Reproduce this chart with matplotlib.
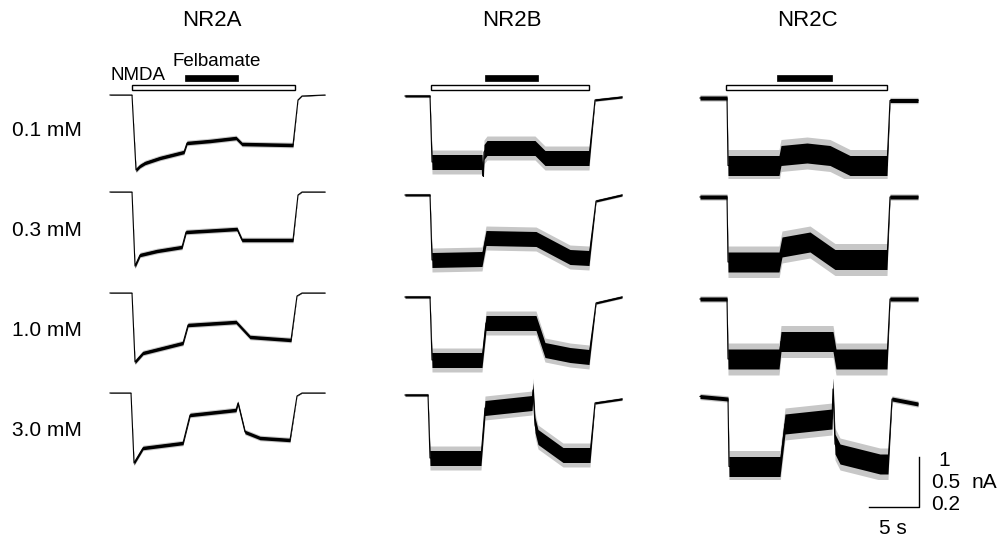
import numpy as np
import matplotlib
matplotlib.use('Agg')
import matplotlib.pyplot as plt
from matplotlib.patches import Rectangle
from matplotlib import transforms

plt.rcParams['font.family'] = ['Liberation Sans', 'DejaVu Sans']

columns = ['NR2A', 'NR2B', 'NR2C']
concentrations = ['0.1 mM', '0.3 mM', '1.0 mM', '3.0 mM']

# drug application windows (s, relative to NMDA onset)
nmda_on = [0.0, 0.1, -0.1]
nmda_off = [16.3, 15.9, 16.0]
felb_on = [5.3, 5.5, 5.0]
felb_off = [10.6, 10.8, 10.5]

# scale bar: 5 s, and 1 / 0.5 / 0.2 nA for NR2A / NR2B / NR2C
bar_s = 5
bar_na = [1, 0.5, 0.2]

# noise envelope half-width (nA): baseline, during NMDA
noise_base = [0.004, 0.01, 0.008]
noise_on = [0.035, 0.075, 0.04]

# NR2A traces (time s, current nA)
t_a1 = [-2.2, 0.0, 0.4, 0.8, 1.3, 2.8, 5.2, 5.5, 7.8, 10.4, 11.0, 16.1, 16.6, 17.0, 19.3]
i_a1 = [0.0, 0.0, -1.50, -1.42, -1.36, -1.26, -1.14, -0.96, -0.92, -0.86, -0.98, -1.00, -0.10, -0.02, 0.0]
t_a2 = [-2.2, 0.0, 0.3, 0.8, 2.5, 5.0, 5.4, 10.5, 11.0, 16.1, 16.6, 17.0, 19.3]
i_a2 = [0.0, 0.0, -1.48, -1.26, -1.18, -1.10, -0.80, -0.74, -0.96, -0.96, -0.06, 0.0, 0.0]
t_a3 = [-2.2, 0.0, 0.3, 1.1, 5.1, 5.6, 10.4, 11.8, 15.9, 16.5, 17.0, 19.3]
i_a3 = [0.0, 0.0, -1.38, -1.20, -1.00, -0.64, -0.58, -0.88, -0.94, -0.06, 0.0, 0.0]
t_a4 = [-2.2, -0.1, 0.2, 1.1, 5.1, 5.8, 10.4, 10.6, 11.3, 12.8, 15.8, 16.5, 17.0, 19.3]
i_a4 = [0.0, 0.0, -1.40, -1.10, -1.00, -0.44, -0.34, -0.20, -0.78, -0.90, -0.94, -0.06, 0.0, 0.0]

# NR2B traces
t_b1 = [-2.5, 0.0, 0.2, 5.2, 5.3, 5.4, 5.7, 10.5, 11.5, 15.9, 16.5, 19.2]
i_b1 = [0.0, 0.0, -0.66, -0.66, -0.86, -0.56, -0.52, -0.52, -0.62, -0.62, -0.04, -0.01]
t_b2 = [-2.5, 0.0, 0.2, 5.2, 5.6, 10.6, 14.0, 15.9, 16.6, 19.2]
i_b2 = [0.0, 0.0, -0.65, -0.64, -0.43, -0.44, -0.62, -0.63, -0.06, 0.0]
t_b3 = [-2.5, 0.0, 0.2, 5.2, 5.6, 10.6, 11.5, 14.0, 15.9, 16.6, 19.2]
i_b3 = [0.0, 0.0, -0.63, -0.63, -0.26, -0.26, -0.53, -0.58, -0.60, -0.06, 0.0]
t_b4 = [-2.5, -0.2, 0.0, 5.1, 5.5, 10.2, 10.3, 10.5, 10.8, 13.3, 16.0, 16.5, 19.2]
i_b4 = [0.0, 0.0, -0.63, -0.63, -0.13, -0.08, 0.05, -0.30, -0.42, -0.60, -0.60, -0.08, -0.04]

# NR2C traces
t_c1 = [-2.7, 0.0, 0.1, 5.2, 5.4, 8.0, 10.3, 12.3, 16.0, 16.3, 19.1]
i_c1 = [0.0, 0.0, -0.27, -0.27, -0.23, -0.22, -0.23, -0.27, -0.27, -0.01, -0.01]
t_c2 = [-2.7, 0.0, 0.1, 5.2, 5.5, 8.3, 10.8, 16.0, 16.3, 19.1]
i_c2 = [0.0, 0.0, -0.26, -0.26, -0.20, -0.18, -0.25, -0.25, 0.0, 0.0]
t_c3 = [-2.7, 0.0, 0.1, 5.2, 5.4, 10.6, 10.9, 16.0, 16.3, 19.1]
i_c3 = [0.0, 0.0, -0.24, -0.24, -0.17, -0.17, -0.24, -0.24, 0.0, 0.0]
t_c4 = [-2.7, 0.1, 0.2, 5.3, 5.8, 10.5, 10.6, 10.8, 11.3, 15.3, 16.1, 16.5, 19.1]
i_c4 = [0.01, 0.0, -0.27, -0.27, -0.10, -0.08, 0.04, -0.18, -0.22, -0.26, -0.26, 0.0, -0.02]

traces = [
    [(t_a1, i_a1), (t_a2, i_a2), (t_a3, i_a3), (t_a4, i_a4)],
    [(t_b1, i_b1), (t_b2, i_b2), (t_b3, i_b3), (t_b4, i_b4)],
    [(t_c1, i_c1), (t_c2, i_c2), (t_c3, i_c3), (t_c4, i_c4)],
]

# layout in pixels
W, H = 1002, 539
t0_px = [132, 430, 727]          # x pixel of NMDA onset
base_px = [[95, 192, 293, 393], [96, 195, 297, 395], [98, 197, 299, 399]]
title_x = [212, 512, 807]

fig = plt.figure(figsize=(W / 100, H / 100), dpi=100)

axes = {}
for c in range(3):
    px_per_na = 50 / bar_na[c]
    for r in range(4):
        yb = base_px[c][r]
        left = t0_px[c] - 30
        top, bottom = yb - 20, yb + 80
        ax = fig.add_axes([left / W, 1 - bottom / H, 230 / W, (bottom - top) / H])
        ax.set_xlim(-3, 20)
        ax.set_ylim(-80 / px_per_na, 20 / px_per_na)
        ax.axis('off')
        ax.patch.set_visible(False)
        t = np.array(traces[c][r][0])
        i = np.array(traces[c][r][1])
        big = np.where(np.abs(i) > 0.15 * np.abs(i).max())[0]
        k = np.arange(len(i))
        active = (k >= big[0]) & (k <= big[-1])
        half = np.where(active, noise_on[c], noise_base[c])
        # outer, lighter envelope for the spiky noise, then the dense core
        ax.fill_between(t, i - 1.6 * half, i + 1.6 * half, color='black', lw=0, alpha=0.22)
        ax.fill_between(t, i - half, i + half, color='black', lw=0)
        ax.plot(t, i, color='black', lw=0.8)
        axes[c, r] = ax

    # application bars above the first row
    ax = axes[c, 0]
    tr = transforms.blended_transform_factory(ax.transData, fig.transFigure)
    ax.add_patch(Rectangle((nmda_on[c], 1 - 89.5 / H), nmda_off[c] - nmda_on[c], 4 / H,
                           transform=tr, facecolor='white', edgecolor='black',
                           lw=1, clip_on=False))
    ax.add_patch(Rectangle((felb_on[c], 1 - 80.5 / H), felb_off[c] - felb_on[c], 5 / H,
                           transform=tr, facecolor='black', edgecolor='black',
                           lw=0.5, clip_on=False))

    fig.text(title_x[c] / W, 1 - 20 / H, columns[c], ha='center', va='center', fontsize=16)

for r, lab in enumerate(concentrations):
    fig.text(12 / W, 1 - (131 + 100 * r) / H, lab, ha='left', va='center', fontsize=15)

fig.text(110 / W, 1 - 75 / H, 'NMDA', ha='left', va='center', fontsize=13.5)
fig.text(173 / W, 1 - 61 / H, 'Felbamate', ha='left', va='center', fontsize=13.5)

# scale bar drawn in NR2C / 3.0 mM panel
ax = axes[2, 3]
x1 = 19.2
y1 = -0.432
ax.plot([x1 - bar_s, x1, x1], [y1, y1, y1 + bar_na[2]], color='black', lw=1, clip_on=False)
fig.text(938 / W, 1 - 461 / H, '1', ha='left', va='center', fontsize=15)
fig.text(931 / W, 1 - 482 / H, '0.5', ha='left', va='center', fontsize=15)
fig.text(972 / W, 1 - 482 / H, 'nA', ha='left', va='center', fontsize=15)
fig.text(931 / W, 1 - 505 / H, '0.2', ha='left', va='center', fontsize=15)
fig.text(893 / W, 1 - 528 / H, f'{bar_s} s', ha='center', va='center', fontsize=15)

fig.savefig('out.png', dpi=100)
